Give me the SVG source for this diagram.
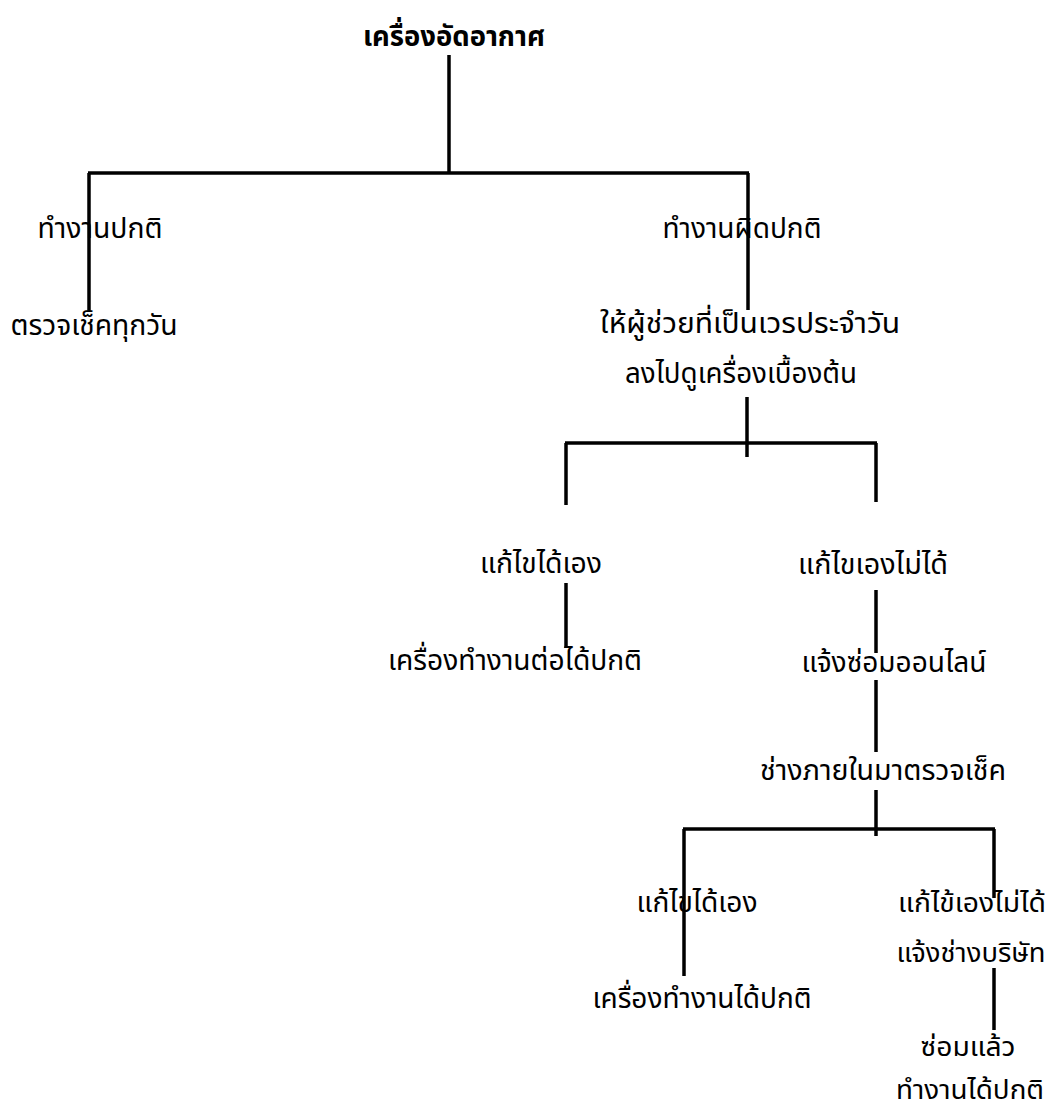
<svg xmlns="http://www.w3.org/2000/svg" width="1053" height="1110" viewBox="0 0 1053 1110">
<style>
.t{font-family:"Noto Sans Thai","Noto Sans","DejaVu Sans",sans-serif;font-size:28px;fill:#000;text-anchor:middle}
.s{font-size:26px}
.b{font-weight:bold}
.c{stroke:#000;stroke-width:3.5;fill:none}
</style>
<rect width="1053" height="1110" fill="#fff"/>
<g id="connectors" class="c">
<path d="M449,55 V173"/>
<path d="M88,173 H749"/>
<path d="M89,173 V311"/>
<path d="M748,173 V310"/>
<path d="M747,397 V457"/>
<path d="M565,443 H877"/>
<path d="M566,443 V505"/>
<path d="M876,443 V502"/>
<path d="M566,583 V648"/>
<path d="M876,590 V653"/>
<path d="M876,680 V752"/>
<path d="M876,790 V836"/>
<path d="M683,829 H995"/>
<path d="M684,829 V976"/>
<path d="M994,829 V898"/>
<path d="M994,968 V1030"/>
</g>
<g id="n-root"><text class="t b" x="454" y="46" textLength="182" lengthAdjust="spacingAndGlyphs">เครื่องอัดอากาศ</text></g>
<g id="n-normal"><text class="t" x="100" y="238" textLength="125" lengthAdjust="spacingAndGlyphs">ทำงานปกติ</text></g>
<g id="n-daily"><text class="t" x="94" y="335" textLength="167" lengthAdjust="spacingAndGlyphs">ตรวจเช็คทุกวัน</text></g>
<g id="n-abnormal"><text class="t" x="742" y="238" textLength="159" lengthAdjust="spacingAndGlyphs">ทำงานผิดปกติ</text></g>
<g id="n-assistant">
<text class="t" x="750" y="333" textLength="300" lengthAdjust="spacingAndGlyphs">ให้ผู้ช่วยที่เป็นเวรประจำวัน</text>
<text class="t" x="741" y="383" textLength="232" lengthAdjust="spacingAndGlyphs">ลงไปดูเครื่องเบื้องต้น</text>
</g>
<g id="n-fix1"><text class="t" x="541" y="573" textLength="122" lengthAdjust="spacingAndGlyphs">แก้ไขได้เอง</text></g>
<g id="n-nofix1"><text class="t" x="873" y="574" textLength="150" lengthAdjust="spacingAndGlyphs">แก้ไขเองไม่ได้</text></g>
<g id="n-ok1"><text class="t" x="515" y="670" textLength="254" lengthAdjust="spacingAndGlyphs">เครื่องทำงานต่อได้ปกติ</text></g>
<g id="n-online"><text class="t" x="894" y="672" textLength="185" lengthAdjust="spacingAndGlyphs">แจ้งซ่อมออนไลน์</text></g>
<g id="n-tech"><text class="t" x="883" y="780" textLength="246" lengthAdjust="spacingAndGlyphs">ช่างภายในมาตรวจเช็ค</text></g>
<g id="n-fix2"><text class="t" x="697" y="912" textLength="121" lengthAdjust="spacingAndGlyphs">แก้ไขได้เอง</text></g>
<g id="n-nofix2">
<text class="t s" x="972" y="912" textLength="148" lengthAdjust="spacingAndGlyphs">แก้ไข้เองไม่ได้</text>
<text class="t s" x="971" y="962" textLength="149" lengthAdjust="spacingAndGlyphs">แจ้งช่างบริษัท</text>
</g>
<g id="n-ok2"><text class="t" x="702" y="1008" textLength="219" lengthAdjust="spacingAndGlyphs">เครื่องทำงานได้ปกติ</text></g>
<g id="n-repaired">
<text class="t s" x="968" y="1056" textLength="95" lengthAdjust="spacingAndGlyphs">ซ่อมแล้ว</text>
<text class="t s" x="970" y="1099" textLength="148" lengthAdjust="spacingAndGlyphs">ทำงานได้ปกติ</text>
</g>
</svg>
